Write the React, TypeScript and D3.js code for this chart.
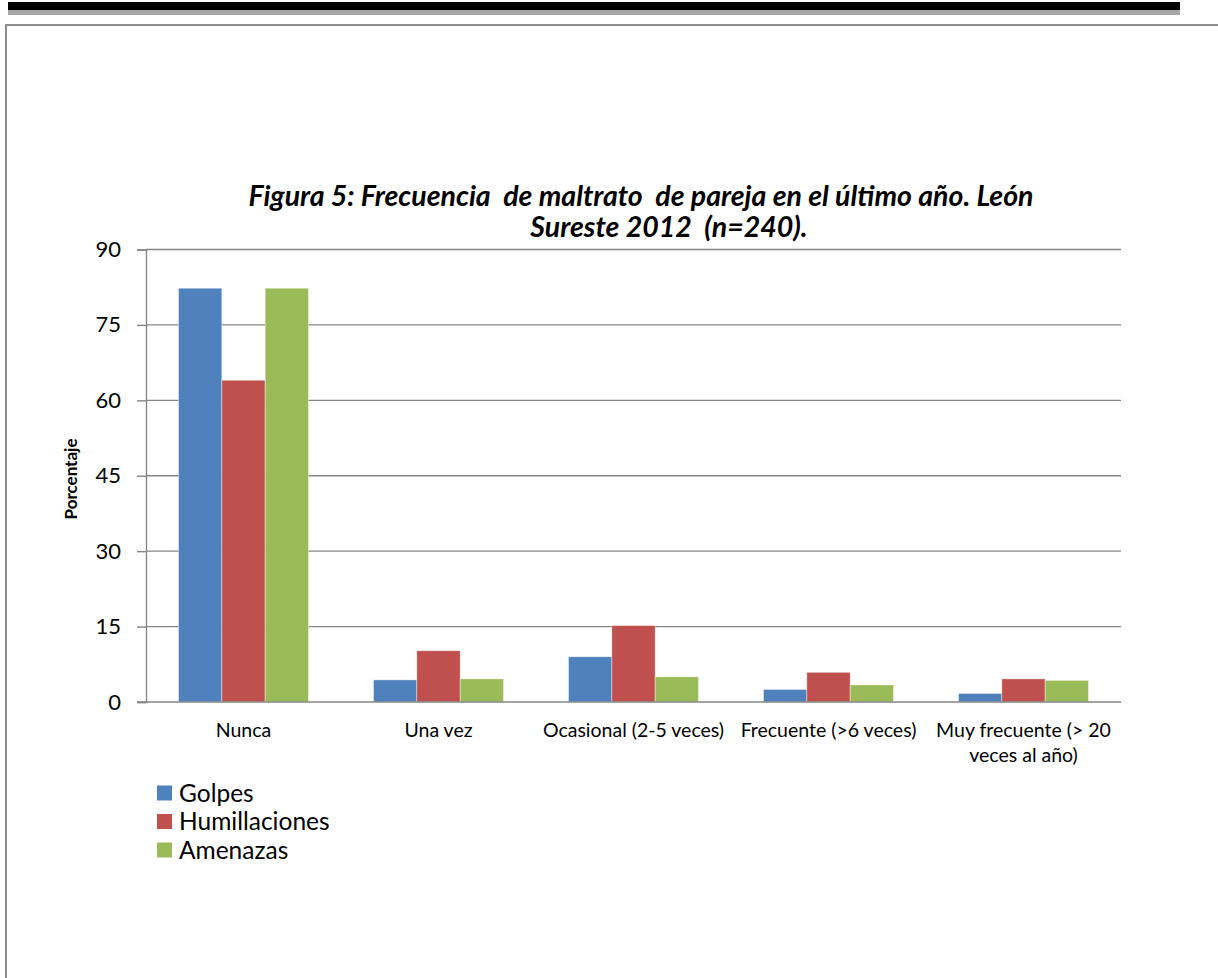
import { useEffect, useRef } from 'react'
import * as d3 from 'd3'

const CATEGORIES = ['Nunca', 'Una vez', 'Ocasional (2-5 veces)', 'Frecuente (>6 veces)', 'Muy frecuente (> 20 veces al año)']
const CATEGORY_LINES = [['Nunca'], ['Una vez'], ['Ocasional (2-5 veces)'], ['Frecuente (>6 veces)'], ['Muy frecuente (> 20', 'veces al año)']]
const SERIES = ['Golpes', 'Humillaciones', 'Amenazas']
const GOLPES = [82.3, 4.4, 9.0, 2.5, 1.7]
const HUMILLACIONES = [64.0, 10.2, 15.2, 5.9, 4.6]
const AMENAZAS = [82.3, 4.6, 5.0, 3.4, 4.3]
const Y_TICKS = [0, 15, 30, 45, 60, 75, 90]
const TITLE_LINES = ['Figura 5: Frecuencia  de maltrato  de pareja en el último año. León', 'Sureste 2012  (n=240).']

const COLORS = ['#4F81BD', '#C0504D', '#9BBB59']
const W = 1218
const H = 978
const FONT = 'Lato, "Open Sans", sans-serif'
// plot box in page pixels
const PLOT = { left: 146, right: 1121, top: 249.5, bottom: 702 }

export default function App() {
  const svgRef = useRef<SVGSVGElement>(null)

  useEffect(() => {
    if (!svgRef.current) return
    const svg = d3.select(svgRef.current)
    svg.selectAll('*').remove()

    const values = [GOLPES, HUMILLACIONES, AMENAZAS]

    // page decoration: black rule at top and the grey frame
    svg.append('rect').attr('x', 8).attr('y', 2).attr('width', 1172).attr('height', 8).attr('fill', '#000')
    svg.append('rect').attr('x', 8).attr('y', 10).attr('width', 1172).attr('height', 5).attr('fill', '#a6a6a6')
    svg.append('line').attr('x1', 5).attr('x2', W).attr('y1', 25).attr('y2', 25)
      .attr('stroke', '#8c8c8c').attr('stroke-width', 2)
    svg.append('line').attr('x1', 6).attr('x2', 6).attr('y1', 24).attr('y2', H)
      .attr('stroke', '#8c8c8c').attr('stroke-width', 2)

    const y = d3.scaleLinear().domain([0, 90]).range([PLOT.bottom, PLOT.top])
    const x0 = d3.scaleBand<string>().domain(CATEGORIES).range([PLOT.left, PLOT.right]).padding(0)
    const x1 = d3.scaleBand<string>().domain(SERIES).range([0, x0.bandwidth()]).paddingInner(0).paddingOuter(0.75)

    // gridlines
    svg.append('g')
      .selectAll('line')
      .data(Y_TICKS.filter((t) => t > 0))
      .join('line')
      .attr('x1', PLOT.left)
      .attr('x2', PLOT.right)
      .attr('y1', (d) => y(d))
      .attr('y2', (d) => y(d))
      .attr('stroke', '#868686')
      .attr('stroke-width', 1.4)

    // y axis
    const yAxis = d3.axisLeft(y).tickValues(Y_TICKS).tickSize(9).tickPadding(16)
    svg.append('g')
      .attr('transform', `translate(${PLOT.left},0)`)
      .call(yAxis)
      .call((g) => {
        g.select('.domain').attr('stroke', '#868686').attr('stroke-width', 1.4)
        g.selectAll('.tick line').attr('stroke', '#868686').attr('stroke-width', 1.4)
        g.selectAll('.tick text')
          .attr('fill', '#000')
          .attr('font-size', 22)
          .attr('font-family', FONT)
      })

    // bars
    SERIES.forEach((s, si) => {
      svg.append('g')
        .selectAll('rect')
        .data(values[si])
        .join('rect')
        .attr('x', (_, i) => (x0(CATEGORIES[i]) ?? 0) + (x1(s) ?? 0))
        .attr('y', (d) => y(d))
        .attr('width', x1.bandwidth())
        .attr('height', (d) => y(0) - y(d))
        .attr('fill', COLORS[si])
        .attr('stroke', 'rgba(255,255,255,0.5)')
        .attr('stroke-width', 0.8)
    })

    // x baseline (drawn over bars, with tick stub at 0 from the axis)
    svg.append('line')
      .attr('x1', PLOT.left - 9)
      .attr('x2', PLOT.right)
      .attr('y1', y(0))
      .attr('y2', y(0))
      .attr('stroke', '#868686')
      .attr('stroke-width', 1.6)

    // category labels
    const cat = svg.append('g')
    CATEGORIES.forEach((c, i) => {
      const cx = (x0(c) ?? 0) + x0.bandwidth() / 2
      CATEGORY_LINES[i].forEach((ln, li) => {
        cat.append('text')
          .attr('x', cx)
          .attr('y', 737 + li * 25)
          .attr('text-anchor', 'middle')
          .attr('font-size', 19.5)
          .attr('font-family', FONT)
          .attr('fill', '#000')
          .text(ln)
      })
    })

    // y label
    svg.append('text')
      .attr('transform', 'translate(77,479) rotate(-90)')
      .attr('text-anchor', 'middle')
      .attr('font-size', 17)
      .attr('font-weight', 'bold')
      .attr('font-family', FONT)
      .attr('fill', '#000')
      .text('Porcentaje')

    // title (keep the double spaces of the original)
    const titleX = [641, 669]
    TITLE_LINES.forEach((t, i) => {
      svg.append('text')
        .attr('x', titleX[i])
        .attr('y', 206 + i * 31)
        .attr('text-anchor', 'middle')
        .attr('font-size', 28.5)
        .attr('font-weight', 'bold')
        .attr('font-style', 'italic')
        .attr('font-family', FONT)
        .attr('fill', '#000')
        .style('white-space', 'pre')
        .text(t)
    })

    // legend
    const legend = svg.append('g')
    SERIES.forEach((s, i) => {
      const cy = 793 + i * 28.5
      legend.append('rect')
        .attr('x', 157)
        .attr('y', cy - 7.5)
        .attr('width', 15)
        .attr('height', 15)
        .attr('fill', COLORS[i])
      legend.append('text')
        .attr('x', 179)
        .attr('y', cy + 8.5)
        .attr('font-size', 24.5)
        .attr('font-family', FONT)
        .attr('fill', '#000')
        .text(s)
    })
  }, [])

  return (
    <svg
      ref={svgRef}
      width={W}
      height={H}
      style={{ position: 'absolute', left: 0, top: 0, background: '#fff' }}
    />
  )
}
